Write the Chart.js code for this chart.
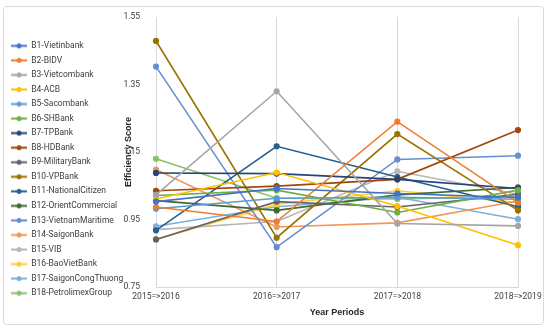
<!DOCTYPE html>
<html>
<head>
<meta charset="utf-8">
<script src="https://cdn.jsdelivr.net/npm/chart.js@4.4.0/dist/chart.umd.min.js"></script>
<style>
html,body{margin:0;padding:0;background:#fff;}
#wrap{width:550px;height:331px;position:relative;}
</style>
</head>
<body>
<div id="wrap"><canvas id="effChart"></canvas></div>
<script>
// periods on the x axis
const periods = ['2015=>2016', '2016=>2017', '2017=>2018', '2018=>2019'];
const yTicks = [0.75, 0.95, 1.15, 1.35, 1.55];

const bankNames = ['B1-Vietinbank','B2-BIDV','B3-Vietcombank','B4-ACB','B5-Sacombank','B6-SHBank',
    'B7-TPBank','B8-HDBank','B9-MilitaryBank','B10-VPBank','B11-NationalCitizen','B12-OrientCommercial',
    'B13-VietnamMaritime','B14-SaigonBank','B15-VIB','B16-BaoVietBank','B17-SaigonCongThuong','B18-PetrolimexGroup'];

const vietinbank       = [1.003, 1.042, 1.027, 1.015];
const bidv             = [0.987, 0.944, 1.240, 1.000];
const vietcombank      = [1.023, 1.330, 0.938, 0.931];
const acb              = [1.011, 1.089, 0.990, 0.874];
const sacombank        = [0.982, 1.013, 1.016, 1.010];
const shbank           = [1.021, 1.037, 0.971, 1.037];
const tpbank           = [1.088, 1.086, 1.069, 1.042];
const hdbank           = [1.035, 1.049, 1.069, 1.215];
const militarybank     = [0.891, 1.003, 0.987, 1.025];
const vpbank           = [1.479, 0.896, 1.203, 0.977];
const nationalcitizen  = [0.918, 1.167, 1.076, 0.988];
const orientcommercial = [1.006, 0.977, 1.023, 1.045];
const vietnammaritime  = [1.403, 0.868, 1.128, 1.139];
const saigonbank       = [1.098, 0.928, 0.940, 1.005];
const vib              = [0.920, 0.944, 1.093, 1.025];
const baovietbank      = [0.891, 0.995, 1.035, 1.000];
const saigoncongthuong = [0.930, 0.988, 1.016, 0.951];
const petrolimexgroup  = [1.130, 1.013, 1.011, 1.018];

const allScores = [vietinbank, bidv, vietcombank, acb, sacombank, shbank, tpbank, hdbank, militarybank,
    vpbank, nationalcitizen, orientcommercial, vietnammaritime, saigonbank, vib, baovietbank,
    saigoncongthuong, petrolimexgroup];

const colors = ['#4472C4','#ED7D31','#A5A5A5','#FFC000','#5B9BD5','#70AD47','#264478','#9E480E','#636363',
    '#997300','#255E91','#43682B','#698ED0','#F1975A','#B7B7B7','#FFCD33','#7CAFDD','#8CC168'];

// small line+dot picture for legend entries
function legendMark(col){
    let c = document.createElement('canvas');
    c.width = 16; c.height = 7;
    let g = c.getContext('2d');
    g.strokeStyle = col; g.lineWidth = 2;
    g.beginPath(); g.moveTo(0, 3.5); g.lineTo(16, 3.5); g.stroke();
    g.fillStyle = col;
    g.beginPath(); g.arc(8, 3.5, 2.5, 0, Math.PI*2); g.fill();
    return c;
}
const marks = colors.map(legendMark);

const frame = {
    id: 'frame',
    beforeDraw(chart){
        let ctx = chart.ctx;
        ctx.save();
        ctx.strokeStyle = '#d9d9d9';
        ctx.lineWidth = 1;
        ctx.beginPath();
        ctx.roundRect(3.5, 6.5, 540, 318, 3);
        ctx.stroke();
        ctx.restore();
    }
};

const smallFont = { family: 'Roboto, sans-serif', size: 8.5 };

const ctx = document.getElementById('effChart').getContext('2d');
const myChart = new Chart(ctx, {
    type: 'line',
    data: {
        labels: periods,
        datasets: allScores.map((d, i) => ({
            label: bankNames[i],
            data: d,
            borderColor: colors[i],
            backgroundColor: colors[i],
            borderWidth: 1.6,
            pointRadius: 2.3,
            pointHoverRadius: 2.3,
            tension: 0
        }))
    },
    options: {
        responsive: true,
        maintainAspectRatio: false,
        animation: false,
        layout: { padding: { left: 5, top: 17, right: 32, bottom: 9 } },
        plugins: {
            legend: {
                position: 'left',
                maxWidth: 118,
                labels: {
                    usePointStyle: true,
                    pointStyleWidth: 16,
                    padding: 6.05,
                    color: '#404040',
                    font: smallFont,
                    generateLabels(chart){
                        let items = Chart.defaults.plugins.legend.labels.generateLabels(chart);
                        items.forEach((it, i) => { it.pointStyle = marks[i]; });
                        return items;
                    }
                }
            },
            tooltip: { enabled: false }
        },
        scales: {
            x: {
                offset: false,
                grid: { color: '#d9d9d9', drawTicks: false },
                border: { color: '#d9d9d9' },
                ticks: { color: '#404040', font: smallFont, padding: 5, maxRotation: 0 },
                title: { display: true, text: 'Year Periods', color: '#262626', font: { family: 'Liberation Sans, sans-serif', size: 9, weight: 'bold' }, padding: { top: 0, bottom: 4 } }
            },
            y: {
                min: 0.75,
                max: 1.55,
                afterBuildTicks(scale){ scale.ticks = yTicks.map(v => ({ value: v })); },
                afterFit(scale){ scale.width = 33; },
                grid: { display: false },
                border: { display: false },
                ticks: { color: '#404040', font: smallFont, padding: 8,
                    callback: v => v.toFixed(2) },
                title: { display: true, text: 'Efficiency Score', color: '#262626', font: { family: 'Liberation Sans, sans-serif', size: 9, weight: 'bold' }, padding: 0 }
            }
        }
    },
    plugins: [frame]
});
</script>
</body>
</html>
